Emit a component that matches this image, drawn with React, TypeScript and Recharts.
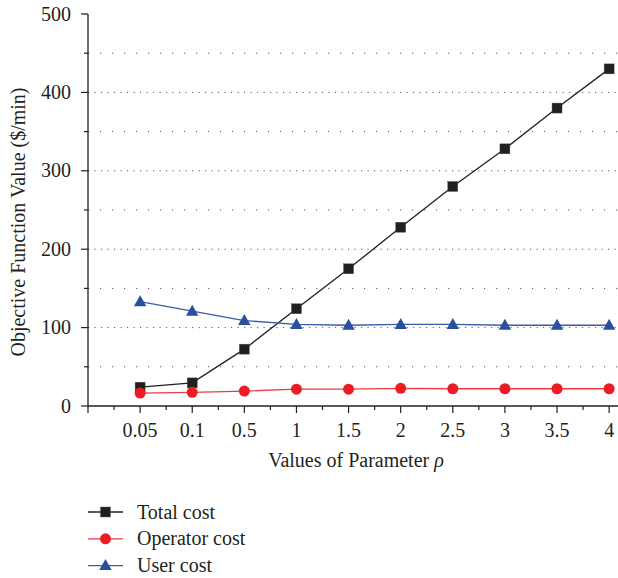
import React from 'react';
import { LineChart, Line, XAxis, YAxis, ReferenceLine } from 'recharts';

const categories = ['0.05', '0.1', '0.5', '1', '1.5', '2', '2.5', '3', '3.5', '4'];
const totalCost = [24, 29.5, 72.5, 124, 175, 228, 280, 328, 380, 430];
const operatorCost = [16.5, 17.5, 19, 21.5, 21.5, 22.5, 22, 22, 22, 22];
const userCost = [133, 121, 109, 104, 103, 104, 104, 103, 103, 103];
const yMajorTicks = [0, 100, 200, 300, 400, 500];
const yMinorTicks = [50, 150, 250, 350, 450];
const xTickPositions = [0, 0.5, 1, 1.5, 2, 2.5, 3, 3.5, 4, 4.5, 5, 5.5, 6, 6.5, 7, 7.5, 8, 8.5, 9, 9.5, 10];

const FONT = '"Liberation Serif", "Times New Roman", serif';
const INK = '#231f20';
const RED = '#ed1c24';
const BLUE = '#2c4e9f';

const data = categories.map((c, i) => ({
  idx: i + 1,
  label: c,
  total: totalCost[i],
  operator: operatorCost[i],
  user: userCost[i],
}));

type Shape = 'square' | 'circle' | 'triangle';

const Marker = ({ cx, cy, shape, color }: { cx: number; cy: number; shape: Shape; color: string }) => {
  if (cx == null || cy == null) return null;
  if (shape === 'square') {
    return <rect x={cx - 5} y={cy - 5} width={10} height={10} fill={color} stroke="#555" strokeWidth={0.4} />;
  }
  if (shape === 'circle') {
    return <circle cx={cx} cy={cy} r={5.5} fill={color} />;
  }
  return (
    <polygon
      points={`${cx},${cy - 6.5} ${cx - 6.2},${cy + 4.5} ${cx + 6.2},${cy + 4.5}`}
      fill={color}
    />
  );
};

const series: { key: string; name: string; color: string; lineColor: string; shape: Shape }[] = [
  { key: 'total', name: 'Total cost', color: INK, lineColor: INK, shape: 'square' },
  { key: 'operator', name: 'Operator cost', color: RED, lineColor: '#ef3b43', shape: 'circle' },
  { key: 'user', name: 'User cost', color: BLUE, lineColor: '#3a5aa8', shape: 'triangle' },
];

const XTick = (props: any) => {
  const { x, y, payload } = props;
  const v = payload.value as number;
  const major = Math.abs(v - Math.round(v)) < 1e-6;
  const label = major && v >= 1 ? categories[Math.round(v) - 1] : '';
  return (
    <g>
      <line x1={x} x2={x} y1={y} y2={y + (major ? 7 : 4)} stroke={INK} strokeWidth={1.2} />
      {label ? (
        <text x={x} y={y + 31} textAnchor="middle" fontSize={20} fontFamily={FONT} fill={INK}>
          {label}
        </text>
      ) : null}
    </g>
  );
};

const YTick = (props: any) => {
  const { x, y, payload } = props;
  const v = payload.value as number;
  const major = yMajorTicks.includes(v);
  return (
    <g>
      <line x1={x} x2={x - (major ? 7 : 4)} y1={y} y2={y} stroke={INK} strokeWidth={1.2} />
      {major ? (
        <text x={x - 17} y={y + 6.5} textAnchor="end" fontSize={20} fontFamily={FONT} fill={INK}>
          {v}
        </text>
      ) : null}
    </g>
  );
};

const yTicks = [...yMajorTicks, ...yMinorTicks].sort((a, b) => a - b);

export default function App() {
  return (
    <div style={{ position: 'absolute', left: 0, top: 0, width: 618, height: 578, background: '#fff' }}>
      <LineChart width={618} height={578} data={data} margin={{ top: 14, right: 0, left: 0, bottom: 0 }}>
        <XAxis
          dataKey="idx"
          type="number"
          domain={[0, 10.17]}
          ticks={xTickPositions}
          interval={0}
          tickSize={0}
          tickMargin={0}
          tickLine={false}
          tick={<XTick />}
          height={172}
          axisLine={{ stroke: INK, strokeWidth: 1.3 }}
        />
        <YAxis
          type="number"
          domain={[0, 500]}
          ticks={yTicks}
          interval={0}
          tickSize={0}
          tickMargin={0}
          tickLine={false}
          tick={<YTick />}
          width={88}
          axisLine={{ stroke: INK, strokeWidth: 1.3 }}
        />
        {yMajorTicks.filter((v) => v > 0 && v < 500).map((v) => (
          <ReferenceLine key={'M' + v} y={v} stroke="#555" strokeWidth={1} strokeDasharray="1.2 5.3" />
        ))}
        {yMinorTicks.map((v) => (
          <ReferenceLine key={'m' + v} y={v} stroke="#555" strokeWidth={1} strokeDasharray="1.2 10.8" />
        ))}
        {series.map((s) => (
          <Line
            key={s.key}
            dataKey={s.key}
            name={s.name}
            stroke={s.lineColor}
            strokeWidth={1.3}
            isAnimationActive={false}
            activeDot={false}
            dot={(p: any) => <Marker key={s.key + p.index} cx={p.cx} cy={p.cy} shape={s.shape} color={s.color} />}
          />
        ))}
      </LineChart>
      <svg width={618} height={578} style={{ position: 'absolute', left: 0, top: 0, pointerEvents: 'none' }}>
        <text x={356} y={467} textAnchor="middle" fontSize={20} fontFamily={FONT} fill={INK}>
          Values of Parameter <tspan fontStyle="italic">ρ</tspan>
        </text>
        <text
          x={25}
          y={222}
          transform="rotate(-90 25 222)"
          textAnchor="middle"
          fontSize={20}
          fontFamily={FONT}
          fill={INK}
        >
          Objective Function Value ($/min)
        </text>
        {series.map((s, i) => {
          const cy = 512 + i * 26.8;
          return (
            <g key={s.key}>
              <line x1={88} x2={123} y1={cy} y2={cy} stroke={s.lineColor} strokeWidth={1.3} />
              <Marker cx={105.5} cy={cy} shape={s.shape} color={s.color} />
              <text x={137} y={cy + 6.5} fontSize={20} fontFamily={FONT} fill={INK}>
                {s.name}
              </text>
            </g>
          );
        })}
      </svg>
    </div>
  );
}
